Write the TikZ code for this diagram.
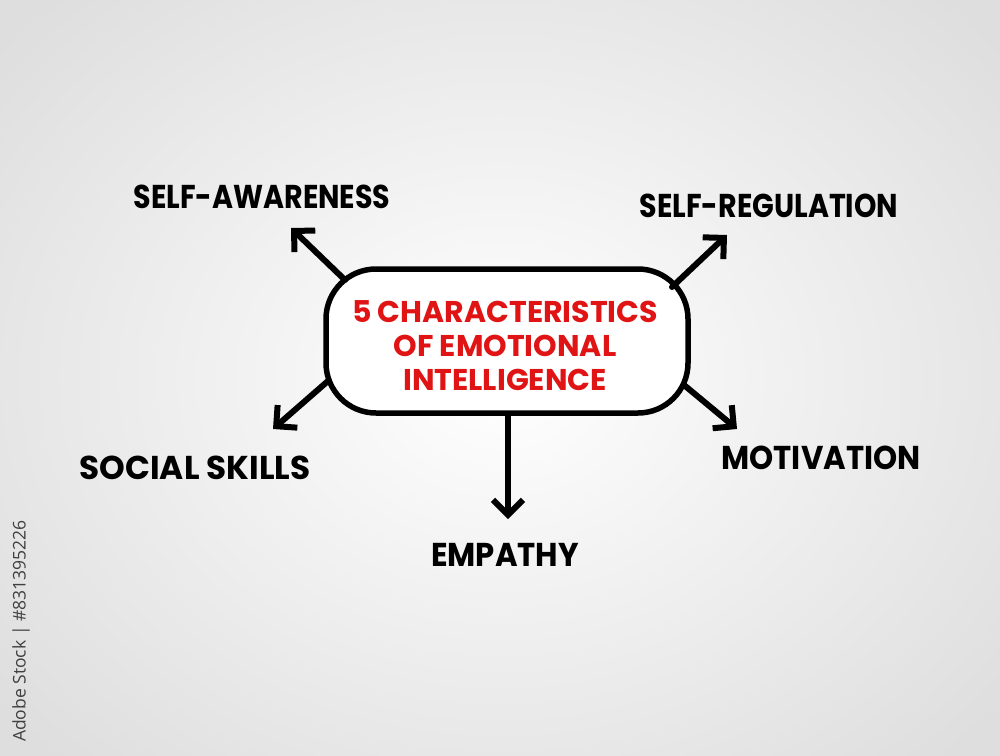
\documentclass[tikz,border=0pt]{standalone}
\usepackage{fontspec}
\setmainfont{Poppins}
\newfontfamily\wmfont{Open Sans}
\usetikzlibrary{arrows.meta}
\definecolor{tred}{HTML}{E01414}
\tikzset{
  lbl/.style={font=\bfseries\fontsize{33}{36}\selectfont, text=black, inner sep=0pt},
  arr/.style={line width=6pt, line cap=round, line join=round, -{Straight Barb[length=15pt,width=30pt,line width=6pt]}},
  hub/.style={draw=black, line width=5.5pt, rounded corners=50pt, minimum width=362pt, minimum height=144pt, fill=white, inner sep=0pt},
}
\newcommand{\sx}[2]{\scalebox{#1}[1]{#2}}
\begin{document}
\begin{tikzpicture}[x=1pt,y=-1pt]
\useasboundingbox (0,0) rectangle (1000,755);
\shade[inner color=white, outer color=black!13] (-150,-150) rectangle (1150,905);
\node[hub] (hub) at (507,341) {};
\node[text=tred, font=\bfseries\fontsize{30}{34}\selectfont, align=center, inner sep=0pt] (title) at (505,346) {5 CHARACTERISTICS\\OF EMOTIONAL\\INTELLIGENCE};
\node[lbl] (sa) at (262,197) {\sx{0.865}{SELF-AWARENESS}};
\node[lbl] (sr) at (769,206) {\sx{0.865}{SELF-REGULATION}};
\node[lbl] (ss) at (195,468) {\sx{0.99}{SOCIAL SKILLS}};
\node[lbl] (mo) at (821,458) {\sx{0.93}{MOTIVATION}};
\node[lbl] (em) at (505,555) {\sx{0.93}{EMPATHY}};
\coordinate (a1) at (345,280); \coordinate (a1t) at (291,228);
\coordinate (a2) at (672,287); \coordinate (a2t) at (727,235);
\coordinate (a3) at (328,381); \coordinate (a3t) at (273,429);
\coordinate (a4) at (684,385); \coordinate (a4t) at (737,429);
\coordinate (a5) at (508,415); \coordinate (a5t) at (508,519);
\draw[arr] (a1) -- (a1t);
\draw[arr] (a2) -- (a2t);
\draw[arr] (a3) -- (a3t);
\draw[arr] (a4) -- (a4t);
\draw[arr] (a5) -- (a5t);
\node[rotate=90, text=black!75, font=\wmfont\fontsize{17.5}{19}\selectfont, anchor=west, inner sep=0pt] (wm) at (21,742) {Adobe Stock | \#831395226};
\end{tikzpicture}
\end{document}
